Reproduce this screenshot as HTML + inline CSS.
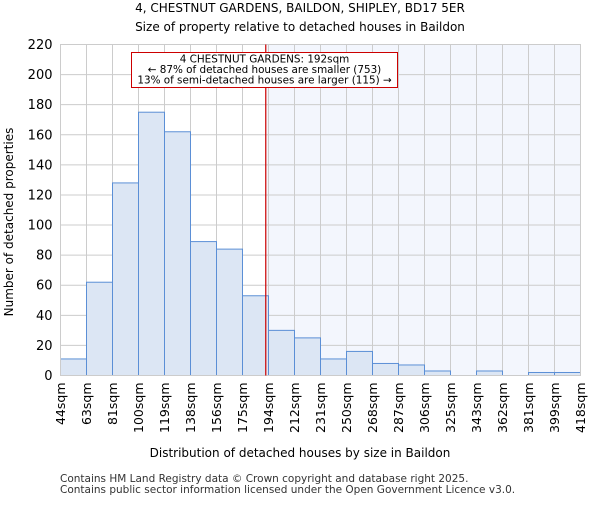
<!DOCTYPE html>
<html><head><meta charset="utf-8"><style>
body{margin:0;background:#fff}
svg{font-family:"DejaVu Sans","Liberation Sans",sans-serif}
</style></head><body>
<svg id="c" width="600" height="500" xmlns="http://www.w3.org/2000/svg">
<text x="300" y="12" text-anchor="middle" font-size="12">4, CHESTNUT GARDENS, BAILDON, SHIPLEY, BD17 5ER</text>
<text x="300" y="31" text-anchor="middle" font-size="12">Size of property relative to detached houses in Baildon</text>
<g id="plot"></g>
<text x="300" y="457" text-anchor="middle" font-size="12">Distribution of detached houses by size in Baildon</text>
<text transform="translate(13,222) rotate(-90)" text-anchor="middle" font-size="12">Number of detached properties</text>
<text x="60" y="482" font-size="10.5" fill="#333">Contains HM Land Registry data © Crown copyright and database right 2025.</text>
<text x="60" y="493" font-size="10.5" fill="#333">Contains public sector information licensed under the Open Government Licence v3.0.</text>
</svg>
<script>
const binLabels=["44sqm","63sqm","81sqm","100sqm","119sqm","138sqm","156sqm","175sqm","194sqm","212sqm","231sqm","250sqm","268sqm","287sqm","306sqm","325sqm","343sqm","362sqm","381sqm","399sqm","418sqm"];
const binEdges=[44,63,81,100,119,138,156,175,194,212,231,250,268,287,306,325,343,362,381,399,418];
const counts=[11,62,128,175,162,89,84,53,30,25,11,16,8,7,3,0,3,0,2,2];
const yTicks=[0,20,40,60,80,100,120,140,160,180,200,220];
const propertySize=192;
const L=60.5,R=580.5,T=44.5,B=375.5,N=counts.length;
const bw=(R-L)/N;
function xIdx(i){return L+i*bw;}
function xVal(v){for(let i=0;i<binEdges.length-1;i++){if(v<=binEdges[i+1]){return xIdx(i)+(v-binEdges[i])/(binEdges[i+1]-binEdges[i])*bw;}}return R;}
function y(v){return B-(v/220)*(B-T);}
const NS="http://www.w3.org/2000/svg";
const g=document.getElementById('plot');
function mk(t,a,p){const e=document.createElementNS(NS,t);for(const k in a)e.setAttribute(k,a[k]);(p||g).appendChild(e);return e;}
const px=xVal(propertySize);
let e=mk('rect',{x:px,y:T,width:R-px,height:B-T,fill:'#f3f6fd'});


for(let i=0;i<=N;i++){e=mk('line',{x1:xIdx(i),x2:xIdx(i),y1:T,y2:B,stroke:'#ccc','stroke-width':1});

}
yTicks.forEach(t=>{e=mk('line',{x1:L,x2:R,y1:y(t),y2:y(t),stroke:'#ccc','stroke-width':1});


e=mk('text',{x:L-8,y:y(t)+4.5,'text-anchor':'end','font-size':13});e.textContent=t;

});
counts.forEach((c,i)=>{e=mk('rect',{x:xIdx(i),y:y(c),width:bw,height:B-y(c),fill:'#dce6f4',stroke:'#5b8fd6','stroke-width':1});

});
binLabels.forEach((l,i)=>{const xx=xIdx(i);e=mk('text',{transform:`translate(${xx+4.5},${B+7}) rotate(-90)`,'text-anchor':'end','font-size':12.5});e.textContent=l;

});
e=mk('rect',{x:L,y:T,width:R-L,height:B-T,fill:'none',stroke:'#ccc'});


e=mk('line',{x1:px,x2:px,y1:T,y2:B,stroke:'#cc0000','stroke-width':1.2});


const ann=mk('g',{});


mk('rect',{x:131.5,y:52.5,width:266,height:35,fill:'#fff',stroke:'#cc0000'},ann);
[["4 CHESTNUT GARDENS: 192sqm",62.5],["← 87% of detached houses are smaller (753)",73],["13% of semi-detached houses are larger (115) →",83.5]].forEach(a=>{const t=mk('text',{x:264.5,y:a[1],'text-anchor':'middle','font-size':10.4},ann);t.textContent=a[0];});
</script>
</body></html>
